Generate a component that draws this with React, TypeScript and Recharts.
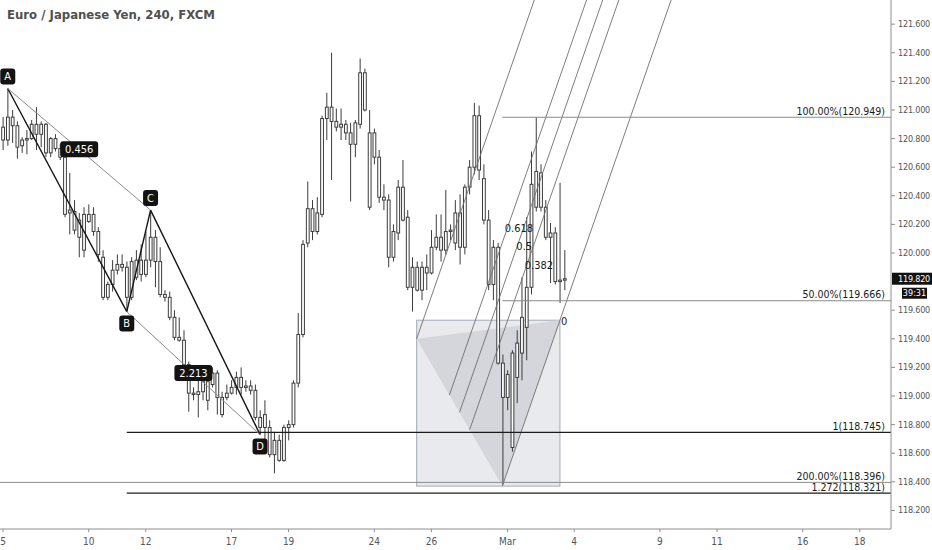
import React from 'react';
import { ComposedChart, Bar, XAxis, YAxis, ReferenceLine, ReferenceArea, ReferenceDot } from 'recharts';

// EUR/JPY 4h candles, Feb 5 -> Mar 3
const openPrices = [
  120.88, 120.79, 120.95, 120.89, 120.75, 120.79, 120.80, 120.90, 120.83, 120.90,
  120.70, 120.80, 120.73, 120.67, 120.28, 120.29, 120.23, 120.02, 120.27, 120.27,
  120.15, 119.97, 119.69, 119.78, 119.88, 119.92, 119.90, 119.69, 119.83, 119.95,
  119.85, 119.95, 120.11, 119.94, 119.71, 119.69, 119.55, 119.41, 119.39, 119.22,
  119.02, 119.01, 119.03, 119.10, 119.08, 119.16, 118.99, 118.99, 119.02, 119.06,
  119.13, 119.06, 119.07, 119.04, 118.85, 118.78, 118.78, 118.59, 118.69, 118.55,
  118.78, 118.80, 119.09, 119.43, 120.07, 120.31, 120.15, 120.27, 120.94, 121.02,
  120.92, 120.88, 120.90, 120.84, 120.76, 120.90, 121.26, 120.84, 120.67, 120.67,
  120.39, 120.37, 119.97, 120.14, 120.46, 120.25, 119.76, 119.90, 119.74, 119.90,
  119.86, 120.04, 120.11, 120.02, 120.15, 120.07, 120.28, 120.04, 120.46, 120.60,
  120.96, 120.52, 120.23, 119.78, 120.04, 119.23, 118.99, 118.64, 119.13, 119.30,
  119.48, 119.76, 120.32, 120.56, 120.32, 120.11, 120.14, 119.80, 119.81,
];
const highPrices = [
  120.95, 121.15, 121.00, 120.92, 120.81, 120.86, 120.93, 121.02, 120.92, 120.91,
  120.81, 120.83, 120.76, 120.69, 120.56, 120.37, 120.28, 120.32, 120.34, 120.32,
  120.18, 120.02, 119.80, 119.95, 119.99, 119.99, 119.94, 119.97, 120.02, 120.06,
  120.15, 120.30, 120.16, 120.04, 119.74, 119.73, 119.60, 119.55, 119.46, 119.24,
  119.06, 119.11, 119.14, 119.13, 119.20, 119.18, 119.03, 119.08, 119.11, 119.17,
  119.20, 119.11, 119.11, 119.08, 118.90, 118.97, 118.83, 118.75, 118.73, 118.80,
  118.83, 119.11, 119.58, 120.09, 120.50, 120.37, 120.39, 120.96, 121.12, 121.40,
  121.01, 121.01, 120.93, 120.91, 120.93, 121.36, 121.29, 121.00, 120.87, 120.72,
  120.48, 120.41, 120.20, 120.51, 120.65, 120.30, 119.97, 119.94, 119.94, 119.99,
  120.16, 120.27, 120.27, 120.44, 120.20, 120.37, 120.41, 120.48, 120.65, 121.05,
  121.03, 120.62, 120.30, 120.09, 120.07, 119.29, 119.18, 119.32, 119.46, 119.83,
  120.25, 120.71, 120.95, 120.62, 120.37, 120.21, 120.18, 120.49, 120.02,
];
const lowPrices = [
  120.72, 120.75, 120.77, 120.66, 120.70, 120.69, 120.79, 120.72, 120.74, 120.67,
  120.67, 120.71, 120.65, 120.25, 120.13, 120.13, 119.97, 119.97, 120.21, 120.12,
  119.94, 119.67, 119.67, 119.73, 119.85, 119.87, 119.59, 119.67, 119.81, 119.80,
  119.83, 119.90, 119.76, 119.69, 119.66, 119.53, 119.39, 119.38, 119.20, 118.89,
  118.97, 118.85, 118.97, 118.90, 119.06, 118.87, 118.85, 118.97, 119.01, 119.01,
  119.01, 119.03, 119.01, 118.83, 118.73, 118.67, 118.57, 118.46, 118.54, 118.54,
  118.69, 118.78, 119.06, 119.41, 120.04, 120.09, 120.13, 120.25, 120.79, 120.51,
  120.85, 120.79, 120.79, 120.36, 120.67, 120.87, 120.99, 120.30, 120.62, 120.35,
  120.30, 119.90, 119.94, 120.09, 120.22, 119.74, 119.59, 119.73, 119.67, 119.74,
  119.85, 120.02, 119.94, 119.99, 120.09, 120.02, 119.92, 119.99, 120.41, 120.55,
  120.51, 120.20, 119.74, 119.67, 119.22, 118.38, 118.90, 118.61, 118.95, 119.11,
  119.25, 119.71, 120.29, 120.29, 120.09, 119.79, 119.78, 119.65, 119.74,
];
const closePrices = [
  120.79, 120.95, 120.89, 120.74, 120.79, 120.80, 120.90, 120.83, 120.90, 120.70,
  120.80, 120.73, 120.67, 120.27, 120.30, 120.16, 120.11, 120.27, 120.22, 120.15,
  119.99, 119.69, 119.78, 119.88, 119.92, 119.90, 119.69, 119.94, 119.95, 119.85,
  119.95, 120.11, 119.94, 119.71, 119.69, 119.55, 119.41, 119.39, 119.22, 119.02,
  119.01, 119.03, 119.10, 118.97, 119.16, 118.99, 118.87, 119.02, 119.06, 119.13,
  119.06, 119.07, 119.04, 118.85, 118.78, 118.87, 118.59, 118.69, 118.55, 118.78,
  118.80, 119.09, 119.43, 120.06, 120.31, 120.15, 120.28, 120.94, 121.02, 120.92,
  120.88, 120.90, 120.84, 120.76, 120.91, 121.26, 121.00, 120.32, 120.84, 120.39,
  120.37, 119.97, 120.15, 120.46, 120.23, 119.76, 119.90, 119.74, 119.90, 119.86,
  120.04, 120.11, 120.02, 120.15, 120.16, 120.28, 120.04, 120.46, 120.60, 120.96,
  120.58, 120.23, 119.78, 120.04, 119.23, 118.99, 119.15, 119.30, 119.37, 119.55,
  119.76, 120.48, 120.57, 120.32, 120.11, 120.14, 119.80, 119.81, 119.82,
];

// x axis: candle index of each date label
const tickIndex = [0, 18, 30, 48, 60, 78, 90, 106, 120, 138, 150, 168, 180];
const tickLabels = ['5', '10', '12', '17', '19', '24', '26', 'Mar', '4', '9', '11', '16', '18'];
// 119.800 sits under the last-price tag, so it is not listed
const priceTicks = [118.2, 118.4, 118.6, 118.8, 119.0, 119.2, 119.4, 119.6, 120.0, 120.2, 120.4, 120.6, 120.8, 121.0, 121.2, 121.4, 121.6];

// ABCD pattern
const pivotNames = ['A', 'B', 'C', 'D'];
const pivotIndex = [1, 26, 31, 54];
const pivotPrices = [121.15, 119.59, 120.3, 118.73];
const ratioTexts = ['0.456', '2.213'];

// horizontal levels
const levelTexts = ['100.00%(120.949)', '50.00%(119.666)', '200.00%(118.396)', '1(118.745)', '1.272(118.321)'];
const levelPrices = [120.949, 119.666, 118.396, 118.745, 118.321];
const levelStart = [104.9, 104.9, -0.63, 26, 26];

// pitchfork / channel anchors
const forkIndex = [86.9, 104.9, 117];
const forkPrices = [119.4, 118.37, 119.53];
const channelLevels = [0, 0.382, 0.5, 0.618, 1];
const channelTexts = ['0.618', '0.5', '0.382', '0'];
const channelTextIndex = [108.4, 109.5, 112.6, 117.9];
const channelTextPrices = [120.168, 120.042, 119.916, 119.524];

const lastPrice = 119.82;
const countdown = '39:31';

const X_MIN = -0.63;
const X_MAX = 186.55;
const Y_MIN = 118.07;
const Y_MAX = 121.769;
const FONT = "'Liberation Sans Narrow', 'DejaVu Sans Condensed', 'Liberation Sans', Arial, sans-serif";

const Candle = (props: any) => {
  const { x, y, width, height, payload } = props;
  if (!payload) return null;
  const top = height < 0 ? y + height : y;
  const h = Math.abs(height);
  const { open, high, low, close } = payload;
  const cx = x + width / 2;
  const range = high - low || 1;
  const yOf = (v: number) => top + ((high - v) / range) * h;
  const bTop = yOf(Math.max(open, close));
  const bBot = yOf(Math.min(open, close));
  return (
    <g>
      <line x1={cx} x2={cx} y1={top} y2={top + h} stroke="#3c3c3c" strokeWidth={1} />
      <rect x={cx - 1.4} y={bTop} width={2.8} height={Math.max(bBot - bTop, 1)} fill="#fff" stroke="#3c3c3c" strokeWidth={1} />
    </g>
  );
};

const Tag = ({ cx, cy, text, dy, w }: any) => (
  <g>
    <rect x={cx - w / 2} y={cy + dy - 8} width={w} height={16} rx={3} fill="#131313" />
    <text x={cx} y={cy + dy} fill="#fff" fontSize={11} fontFamily={FONT} textAnchor="middle" dominantBaseline="central">
      {text}
    </text>
  </g>
);

const PriceTick = (p: any) => (
  <text x={p.x} y={p.y} dominantBaseline="central" fontSize={9} letterSpacing={-0.2} fill="#555" fontFamily={FONT}>
    {Number(p.payload.value).toFixed(3)}
  </text>
);

export default function App() {
  const candles = openPrices.map((open, i) => ({
    i,
    open,
    high: highPrices[i],
    low: lowPrices[i],
    close: closePrices[i],
  }));

  const pts = pivotNames.map((n, k) => ({ x: pivotIndex[k], y: pivotPrices[k] }));
  const legs = [
    { a: 0, b: 1, dark: true },
    { a: 1, b: 2, dark: true },
    { a: 2, b: 3, dark: true },
    { a: 0, b: 2, dark: false },
    { a: 1, b: 3, dark: false },
  ];

  const [p1x, p2x, p3x] = forkIndex;
  const [p1y, p2y, p3y] = forkPrices;
  const dX = p3x - p2x;
  const dY = p3y - p2y;
  const channelSegs = channelLevels.map((f) => {
    const sx = p1x + (p2x - p1x) * f;
    const sy = p1y + (p2y - p1y) * f;
    const t = (Y_MAX - sy) / dY;
    return [{ x: sx, y: sy }, { x: sx + t * dX, y: Y_MAX }];
  });

  const forkShape = (p: any) => {
    const { x, y, width, height } = p;
    const ax = x;
    const ay = y + ((p3y - p1y) / (p3y - p2y)) * height;
    const bx = x + ((p2x - p1x) / (p3x - p1x)) * width;
    const by = y + height;
    const cx = x + width;
    const cy = y;
    return (
      <g>
        <rect x={x} y={y} width={width} height={height} fill="#e9eaed" stroke="#a3abb8" strokeWidth={1} />
        <polygon points={`${ax},${ay} ${bx},${by} ${cx},${cy}`} fill="#d4d6db" />
      </g>
    );
  };

  return (
    <div style={{ position: 'absolute', left: 0, top: 0, width: 932, height: 550, background: '#fff', fontFamily: FONT }}>
      <ComposedChart width={932} height={550} data={candles} margin={{ top: 0, right: 0, bottom: 0, left: 0 }}>
        <XAxis
          dataKey="i"
          type="number"
          domain={[X_MIN, X_MAX]}
          allowDataOverflow
          ticks={tickIndex}
          interval={0}
          tickFormatter={(v: number) => tickLabels[tickIndex.indexOf(v)]}
          height={21}
          stroke="#8e8e8e"
          tickSize={3}
          tickMargin={6}
          tick={{ fill: '#555', fontSize: 10, fontFamily: FONT }}
        />
        <YAxis
          orientation="right"
          type="number"
          domain={[Y_MIN, Y_MAX]}
          allowDataOverflow
          ticks={priceTicks}
          interval={0}
          width={41}
          stroke="#8e8e8e"
          tickSize={4}
          tickMargin={3}
          tick={<PriceTick />}
        />

        <ReferenceArea x1={p1x} x2={p3x} y1={p2y} y2={p3y} ifOverflow="visible" shape={forkShape} />

        {channelSegs.map((seg, k) => (
          <ReferenceLine key={`ch${k}`} segment={seg} stroke="#6f6f6f" strokeWidth={0.9} ifOverflow="visible" />
        ))}

        {levelPrices.map((lv, k) => (
          <ReferenceLine
            key={`lv${k}`}
            segment={[{ x: levelStart[k], y: lv }, { x: X_MAX, y: lv }]}
            stroke={k < 3 ? '#8a8a8a' : '#1c1c1c'}
            strokeWidth={k < 3 ? 1 : 1.3}
            ifOverflow="visible"
          />
        ))}

        {legs.map((l, k) => (
          <ReferenceLine
            key={`leg${k}`}
            segment={[pts[l.a], pts[l.b]]}
            stroke={l.dark ? '#151515' : '#8a8a8a'}
            strokeWidth={l.dark ? 1.4 : 1}
            ifOverflow="visible"
          />
        ))}

        <Bar dataKey={(d: any) => [d.low, d.high]} barSize={3} shape={(p: any) => <Candle {...p} />} isAnimationActive={false} />

        {levelPrices.map((lv, k) => (
          <ReferenceDot
            key={`lt${k}`}
            x={X_MAX}
            y={lv}
            r={0}
            ifOverflow="visible"
            shape={(p: any) => (
              <text x={p.cx - 6} y={p.cy - 2.5} textAnchor="end" fontSize={10.5} fontFamily={FONT} fill="#1a1a1a">
                {levelTexts[k]}
              </text>
            )}
          />
        ))}

        {channelTexts.map((t, k) => (
          <ReferenceDot
            key={`ct${k}`}
            x={channelTextIndex[k]}
            y={channelTextPrices[k]}
            r={0}
            ifOverflow="visible"
            shape={(p: any) => (
              <text x={p.cx} y={p.cy} textAnchor="middle" dominantBaseline="central" fontSize={11} fontFamily={FONT} fill="#1a1a1a">
                {t}
              </text>
            )}
          />
        ))}

        {[[0, 2], [1, 3]].map(([a, b], k) => (
          <ReferenceDot
            key={`rt${k}`}
            x={(pts[a].x + pts[b].x) / 2}
            y={(pts[a].y + pts[b].y) / 2}
            r={0}
            ifOverflow="visible"
            shape={(p: any) => <Tag cx={p.cx} cy={p.cy} dy={0} w={38} text={ratioTexts[k]} />}
          />
        ))}

        {pivotNames.map((n, k) => (
          <ReferenceDot
            key={`pv${k}`}
            x={pts[k].x}
            y={pts[k].y}
            r={0}
            ifOverflow="visible"
            shape={(p: any) => <Tag cx={p.cx} cy={p.cy} dy={k % 2 === 0 ? -12 : 12} w={15} text={n} />}
          />
        ))}

        <ReferenceDot
          x={X_MAX}
          y={lastPrice}
          r={0}
          ifOverflow="visible"
          shape={(p: any) => (
            <g>
              <rect x={p.cx + 1} y={p.cy - 6} width={40} height={12} fill="#111" />
              <text x={p.cx + 7} y={p.cy} fill="#fff" fontSize={9} letterSpacing={-0.2} fontFamily={FONT} dominantBaseline="central">
                {lastPrice.toFixed(3)}
              </text>
              <rect x={p.cx + 11} y={p.cy + 9} width={25} height={11} fill="#111" />
              <text x={p.cx + 23.5} y={p.cy + 14.5} fill="#fff" fontSize={9} fontFamily={FONT} textAnchor="middle" dominantBaseline="central">
                {countdown}
              </text>
            </g>
          )}
        />
      </ComposedChart>
      <div style={{ position: 'absolute', left: 7, top: 7, fontSize: 13, fontWeight: 600, color: '#505050', fontFamily: FONT }}>
        Euro / Japanese Yen, 240, FXCM
      </div>
    </div>
  );
}
